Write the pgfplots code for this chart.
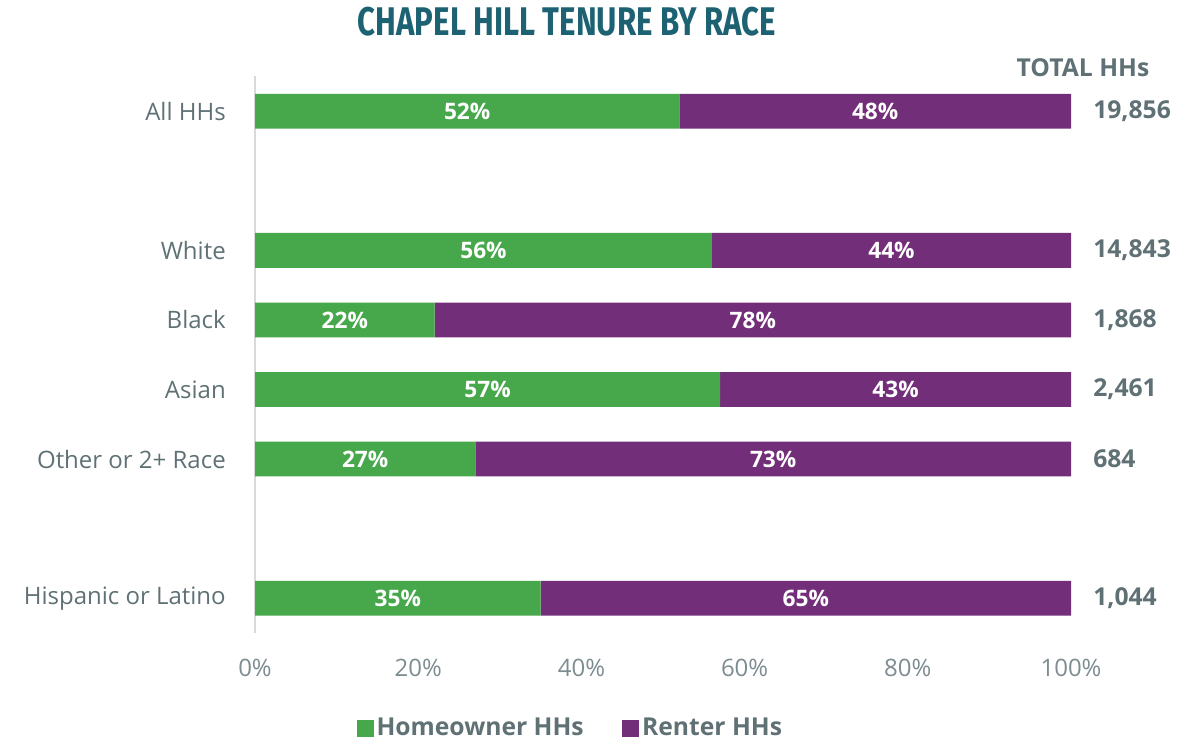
\documentclass[border=0pt]{standalone}
\usepackage{fontspec}
\setmainfont{Open Sans}
\newfontfamily\titlefont[FakeStretch=0.78]{Fira Sans}
\usepackage{pgfplots}
\usepackage{pgfplotstable}
\pgfplotsset{compat=1.18}
\definecolor{hgreen}{HTML}{47A84B}
\definecolor{rpurple}{HTML}{722E78}
\definecolor{textgray}{HTML}{5F7175}
\definecolor{tickgray}{HTML}{7D8C90}
\definecolor{titleteal}{HTML}{1D6272}
\definecolor{axisgray}{HTML}{D9D9D9}
\pgfplotstableread{
y h r total
0 52 48 {19,856}
2 56 44 {14,843}
3 22 78 {1,868}
4 57 43 {2,461}
5 27 73 684
7 35 65 {1,044}
}\data
\begin{document}
\begin{tikzpicture}
\path[use as bounding box] (0,0) rectangle (893.25pt,555.75pt);
\pgfplotsset{common/.style={
  at={(191.25pt,81pt)}, anchor=south west, scale only axis,
  width=612pt, height=417.4pt, xmin=0, xmax=100, ymin=-0.5, ymax=7.5,
  y dir=reverse, clip=false}}
\begin{axis}[common,
  xbar stacked, bar width=0.5,
  axis lines*=left, axis line style={-},
  x axis line style={draw=none},
  y axis line style={draw=axisgray, line width=1.3pt},
  major tick length=0pt,
  xtick={0,20,...,100},
  /pgf/number format/assume math mode=true,
  xticklabel={\pgfmathprintnumber{\tick}\%},
  xticklabel style={anchor=center, yshift=-26pt, font=\fontsize{18}{20}\selectfont, text=tickgray},
  ytick={0,2,3,4,5,7},
  yticklabels={All HHs, White, Black, Asian, Other or 2+ Race, Hispanic or Latino},
  yticklabel style={anchor=east, inner sep=0pt, xshift=-21.75pt, font=\fontsize{18}{20}\selectfont, text=textgray},
  legend style={at={(0.387,-0.171)}, anchor=center, draw=none, fill=none,
    legend columns=2, font=\bfseries\fontsize{18.5}{20}\selectfont, text=textgray,
    /tikz/every even column/.append style={column sep=27pt}},
  legend image code/.code={\fill[#1] (-3pt,-6.4pt) rectangle (9.75pt,6.4pt);},
]
\addplot[fill=hgreen, draw=none] table[x=h, y=y]{\data};
\addplot[fill=rpurple, draw=none] table[x=r, y=y]{\data};
\legend{Homeowner HHs, Renter HHs}
\end{axis}
\begin{axis}[common, hide axis]
\addplot[only marks, mark=none, nodes near coords={\pgfplotspointmeta\%},
  point meta=explicit symbolic,
  nodes near coords style={anchor=center, text=white, font=\bfseries\fontsize{17}{18}\selectfont}]
  table[x expr=\thisrow{h}/2, y=y, meta=h]{\data};
\addplot[only marks, mark=none, nodes near coords={\pgfplotspointmeta\%},
  point meta=explicit symbolic,
  nodes near coords style={anchor=center, text=white, font=\bfseries\fontsize{17}{18}\selectfont}]
  table[x expr=\thisrow{h}+\thisrow{r}/2, y=y, meta=r]{\data};
\addplot[only marks, mark=none, nodes near coords={\pgfplotspointmeta},
  point meta=explicit symbolic,
  nodes near coords style={anchor=west, inner sep=0pt, text=textgray, font=\bfseries\fontsize{18.5}{20}\selectfont}]
  table[x expr=102.7, y=y, meta=total]{\data};
\end{axis}
\node[text=titleteal, font=\titlefont\bfseries\fontsize{30}{32}\selectfont] at (425.25pt,539.25pt) {CHAPEL HILL TENURE BY RACE};
\node[text=textgray, font=\bfseries\fontsize{18.5}{20}\selectfont] at (812.25pt,504.75pt) {TOTAL HHs};
\end{tikzpicture}
\end{document}
